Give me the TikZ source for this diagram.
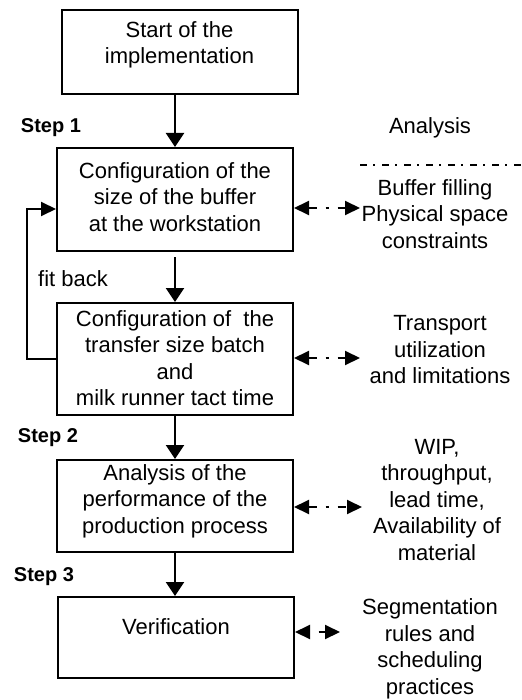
\documentclass[tikz,border=0pt]{standalone}
\usepackage{fontspec}
\setmainfont{Liberation Sans}
\usetikzlibrary{arrows.meta}
\begin{document}
\begin{tikzpicture}[x=0.5pt,y=-0.5pt,
  box/.style={draw,line width=1pt,minimum width=118pt,inner sep=0pt},
  txt/.style={align=center,font=\fontsize{11}{13.25}\selectfont,inner sep=0pt},
  steplbl/.style={font=\fontsize{10}{12}\selectfont\bfseries,inner sep=0pt},
  tip/.tip={Triangle[length=7pt,width=9pt]},
  sidetip/.tip={Triangle[length=7.5pt,width=7pt]},
  flow/.style={line width=1pt,-tip},
  loopflow/.style={line width=1pt,-sidetip},
  both/.style={line width=1pt,sidetip-sidetip,
    dash pattern=on 4pt off 4.5pt on 1.5pt off 4.5pt on 4pt off 100pt},
  bothshort/.style={line width=1pt,sidetip-sidetip,
    dash pattern=on 0pt off 4.5pt on 4pt off 100pt},
  divider/.style={line width=0.7pt,dash pattern=on 3.5pt off 3pt on 1pt off 3.5pt},
]
\useasboundingbox (0,0) rectangle (521,700);

% process boxes
\node[box,minimum height=42pt]   (b1) at (179.5,52)  {};
\node[box,minimum height=51.5pt] (b2) at (175,199.5) {};
\node[box,minimum height=56pt]   (b3) at (175,359)   {};
\node[box,minimum height=46pt]   (b4) at (175,506)   {};
\node[box,minimum height=40.5pt] (b5) at (176,637.5) {};

% box texts
\node[txt] (l1) at (179.5,45) {Start of the\\implementation};
\node[txt] (l2) at (175,197)   {Configuration of the\\size of the buffer\\at the workstation};
\node[txt] (l3) at (175,358)   {Configuration of\ \ the\\transfer size batch\\and\\milk runner tact time};
\node[txt] (l4) at (175,501)   {Analysis of the\\performance of the\\production process};
\node[txt] (l5) at (176,627)   {Verification};

% step labels
\node[steplbl] (st1) at (51,128) {Step 1};
\node[steplbl] (st2) at (48,438) {Step 2};
\node[steplbl] (st3) at (44,577) {Step 3};
\node[txt] (fitback) at (73,279) {fit back};

% analysis column
\node[txt] (an) at (430,128) {Analysis};
\node[txt] (a2) at (435,214) {Buffer filling\\Physical space\\constraints};
\node[txt] (a3) at (440,350) {Transport\\utilization\\and limitations};
\node[txt] (a4) at (437,500) {WIP,\\throughput,\\lead time,\\Availability of\\material};
\node[txt] (a5) at (430,649) {Segmentation\\rules and\\scheduling\\practices};

\coordinate (d0) at (360,165);
\coordinate (d1) at (521,165);
\draw[divider] (d0) -- (d1);

% main flow
\draw[flow] (b2.north |- b1.south) -- (b2.north);
\draw[flow] ([yshift=-2.5pt]b2.south) -- (b3.north);
\draw[flow] (b3.south) -- (b4.north);
\draw[flow] (b4.south) -- (b4.south |- b5.north);

% feedback loop
\coordinate (fbtop) at (27,209);
\draw[loopflow] (b3.west) -| (fbtop) -- (fbtop -| b2.west);

% links to the analysis column
\coordinate (e2) at (360,208);
\coordinate (e3) at (360,358);
\coordinate (e4) at (362,507);
\coordinate (e5) at (340,632);
\draw[both] (b2.east |- e2) -- (e2);
\draw[both] (b3.east |- e3) -- (e3);
\draw[both] (b4.east |- e4) -- (e4);
\draw[bothshort] (b5.east |- e5) -- (e5);
\end{tikzpicture}
\end{document}
